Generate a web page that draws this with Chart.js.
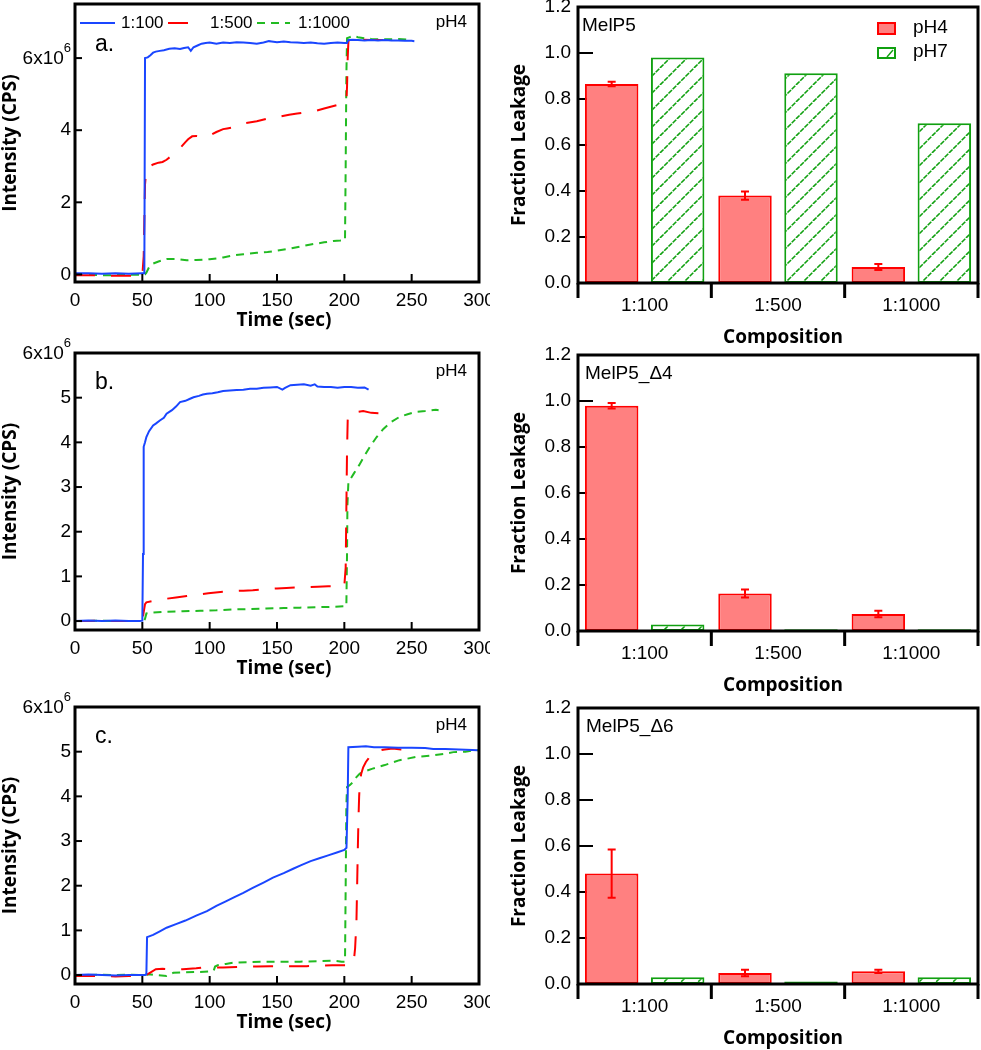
<!DOCTYPE html>
<html>
<head>
<meta charset="utf-8">
<script src="https://cdn.jsdelivr.net/npm/chart.js@4.4.1/dist/chart.umd.min.js"></script>
<style>
html,body{margin:0;padding:0;background:#fff;}
#wrap{position:relative;width:981px;height:1050px;overflow:hidden;background:#fff;}
canvas{position:absolute;}
</style>
</head>
<body>
<div id="wrap"></div>
<script>
// ---------------- DATA ----------------
// time-course panels (intensity in units of 10^6 CPS)
const xTicks = [0, 50, 100, 150, 200, 250, 300];
const yTicksA = [0, 2, 4, 6];
const yTicksBC = [0, 1, 2, 3, 4, 5, 6];
const seriesNames = ['1:100', '1:500', '1:1000'];

const aBlueT = [0,10,20,30,40,50,51.5,52,54,56,58,60,63,66,70,74,78,81,84,86,88,91,94,97,100,105,110,115,120,125,130,135,140,144,146,150,155,160,165,170,175,180,185,190,195,200,202,203,206,210,215,220,225,230,235,240,245,250,252];
const aBlueV = [0.03,0.03,0.02,0.03,0.02,0.03,0.03,6.0,6.02,6.08,6.15,6.18,6.2,6.22,6.26,6.27,6.25,6.28,6.3,6.2,6.3,6.35,6.4,6.42,6.43,6.4,6.43,6.42,6.44,6.43,6.42,6.4,6.43,6.47,6.46,6.44,6.46,6.44,6.43,6.42,6.43,6.41,6.4,6.42,6.43,6.42,6.42,6.5,6.51,6.5,6.49,6.5,6.49,6.5,6.49,6.49,6.48,6.48,6.47];
const aRedT = [0,10,20,30,40,48,50,51,51.5,52,53,55,58,62,65,68,72,78,82,84,87,90,93,97,100,105,110,113,120,127,135,146,152,159,165,172,178,185,192,197,200,201.5,202,202.5,203,204,205,210,220,230,240];
const aRedV = [-0.02,-0.02,-0.03,-0.04,-0.04,-0.04,-0.03,0.5,1.5,2.5,2.9,2.98,3.05,3.1,3.12,3.18,3.3,3.5,3.67,3.75,3.83,3.84,3.82,3.8,3.85,3.95,4.03,4.05,4.1,4.2,4.25,4.35,4.38,4.43,4.46,4.5,4.53,4.6,4.67,4.72,4.75,4.8,5.2,6.0,6.45,6.55,6.55,6.52,6.5,6.5,6.48];
const aGreenT = [0,10,20,30,40,50,52,53,55,58,62,68,75,83,90,95,100,110,118,125,135,143,150,160,168,175,185,192,197,200.5,201,201.5,202,204,207,210,215,220,230,240,250];
const aGreenV = [-0.01,-0.01,-0.02,-0.02,-0.01,-0.01,0.0,0.05,0.2,0.3,0.36,0.43,0.43,0.39,0.4,0.41,0.42,0.47,0.53,0.56,0.6,0.62,0.66,0.72,0.78,0.83,0.89,0.93,0.94,0.95,3.0,5.5,6.55,6.58,6.62,6.58,6.55,6.53,6.52,6.53,6.5];

const bBlueT = [0,10,20,30,40,48,50,50.5,51,52,53,55,58,60,63,66,68,72,75,78,82,85,88,92,95,98,102,106,110,115,120,125,130,135,140,145,150,154,156,160,165,170,175,178,180,185,190,195,200,205,210,215,218];
const bBlueV = [0.0,0.01,0.0,0.01,0.0,0.0,0.01,1.5,3.9,4.0,4.12,4.25,4.38,4.42,4.49,4.55,4.64,4.72,4.8,4.9,4.93,4.97,5.01,5.04,5.07,5.09,5.1,5.12,5.15,5.16,5.17,5.18,5.2,5.2,5.22,5.23,5.24,5.18,5.22,5.28,5.29,5.3,5.27,5.3,5.25,5.24,5.24,5.22,5.24,5.24,5.22,5.23,5.18];
const bRedT = [0,10,20,30,40,50,51,52,53,58,63,68,75,83,90,99,108,117,125,132,140,150,157,163,170,180,188,195,200,201,201.5,202,202.5,203,206,210,214,220,226,230];
const bRedV = [0.0,0.0,0.01,0.0,0.0,0.0,0.2,0.38,0.42,0.45,0.48,0.5,0.53,0.56,0.59,0.62,0.65,0.67,0.68,0.69,0.71,0.73,0.74,0.75,0.76,0.77,0.78,0.78,0.79,1.2,2.5,3.8,4.5,4.62,4.68,4.68,4.7,4.66,4.65,4.64];
const bGreenT = [0,10,20,30,40,50,51,52,53,58,68,80,93,105,118,130,142,155,167,180,192,200,201.5,202,202.3,203,204,207,211,215,219,224,229,235,241,247,253,260,268,270];
const bGreenV = [0.0,0.0,0.01,0.0,0.0,0.0,0.0,0.05,0.17,0.19,0.21,0.22,0.23,0.24,0.26,0.27,0.28,0.29,0.3,0.31,0.32,0.33,0.33,1.5,2.6,3.1,3.15,3.3,3.49,3.7,3.9,4.12,4.3,4.46,4.57,4.63,4.68,4.7,4.73,4.72];

const cBlueT = [0,10,20,30,40,50,52,53,53.5,58,63,68,75,82,90,98,105,112,118,125,132,140,147,155,162,168,175,182,188,195,200,201.6,202.5,203,210,216,222,230,240,250,260,266,275,285,295,299];
const cBlueV = [0.0,0.01,0.0,-0.01,0.0,0.0,0.0,0.02,0.85,0.9,0.98,1.06,1.14,1.22,1.33,1.43,1.55,1.65,1.74,1.84,1.95,2.07,2.18,2.28,2.38,2.46,2.55,2.62,2.68,2.75,2.8,2.85,4.0,5.1,5.11,5.12,5.1,5.1,5.09,5.09,5.08,5.06,5.06,5.05,5.04,5.03];
const cRedT = [0,10,20,30,40,45,50,53,55,60,65,70,75,80,90,95,100,110,120,127,135,145,157,165,172,180,191,200,205,207,208,209,209.5,210,210.5,211,211.5,212.5,214,216,218,221,225,230,236,242,250];
const cRedV = [-0.02,-0.02,-0.02,-0.03,-0.02,-0.03,-0.02,0.0,0.04,0.13,0.14,0.13,0.13,0.13,0.15,0.17,0.17,0.17,0.18,0.19,0.19,0.2,0.2,0.2,0.2,0.21,0.22,0.22,0.22,0.3,0.6,1.2,2.0,2.8,3.5,4.0,4.3,4.5,4.65,4.77,4.85,4.97,5.02,5.05,5.07,5.05,5.04];
const cGreenT = [0,10,20,30,40,50,55,60,68,73,80,93,100,103,104,106,112,118,130,142,155,167,180,192,198,200.5,201,201.5,202,204,206.5,209,211.5,216,221,230,241,253,266,274,281,290,296,300];
const cGreenV = [0.0,0.0,0.01,0.0,0.01,0.0,0.02,0.0,-0.02,0.05,0.06,0.07,0.08,0.1,0.19,0.22,0.25,0.28,0.29,0.3,0.3,0.3,0.31,0.32,0.3,0.3,2.0,3.8,4.21,4.25,4.32,4.43,4.51,4.57,4.62,4.7,4.81,4.88,4.92,4.95,4.99,5.0,5.03,5.03];

// bar panels
const compositions = ['1:100', '1:500', '1:1000'];
const barYTicks = [0, 0.2, 0.4, 0.6, 0.8, 1.0, 1.2];
const melP5_pH4 = [0.865, 0.38, 0.07];
const melP5_pH4_err = [0.01, 0.018, 0.013];
const melP5_pH7 = [0.98, 0.912, 0.695];
const d4_pH4 = [0.979, 0.163, 0.074];
const d4_pH4_err = [0.012, 0.017, 0.014];
const d4_pH7 = [0.028, 0.008, 0.008];
const d6_pH4 = [0.48, 0.048, 0.055];
const d6_pH4_err = [0.105, 0.014, 0.007];
const d6_pH7 = [0.029, 0.011, 0.029];

// ---------------- STYLE / HELPERS ----------------
const TICK_FAMILY = '"Liberation Sans", Arial, sans-serif';
const TICK_SIZE = 19;
const TICK_FONT = TICK_SIZE + 'px ' + TICK_FAMILY;
const TITLE_FONT = 'bold 19px "Open Sans", sans-serif';
const BLUE = '#1a46ff', RED = '#ff0000', GREEN = '#22bb22';
const BAR_RED_FILL = '#ff8080', BAR_GREEN = '#10a010';

const wrap = document.getElementById('wrap');
function makeCanvas(x, y, w, h) {
  const c = document.createElement('canvas');
  c.width = w; c.height = h;
  c.style.left = x + 'px'; c.style.top = y + 'px';
  c.style.width = w + 'px'; c.style.height = h + 'px';
  wrap.appendChild(c);
  return c;
}
function pts(t, v) { return t.map((x, i) => ({x: x, y: v[i]})); }

const hatch = (function () {
  const p = document.createElement('canvas');
  p.width = 17; p.height = 17;
  const g = p.getContext('2d');
  g.fillStyle = '#fff'; g.fillRect(0, 0, 17, 17);
  g.strokeStyle = BAR_GREEN; g.lineWidth = 1.6;
  g.setLineDash([5, 1]);
  for (const k of [-17, 0, 17]) { g.beginPath(); g.moveTo(k, 17); g.lineTo(k + 17, 0); g.stroke(); }
  return p;
})();

function rotText(ctx, txt, x, y, font) {
  ctx.save(); ctx.translate(x, y); ctx.rotate(-Math.PI / 2);
  ctx.font = font; ctx.fillStyle = '#000'; ctx.textAlign = 'center'; ctx.textBaseline = 'middle';
  ctx.fillText(txt, 0, 0); ctx.restore();
}
function text(ctx, txt, x, y, font, align) {
  ctx.save(); ctx.font = font; ctx.fillStyle = '#000'; ctx.textAlign = align || 'left'; ctx.textBaseline = 'middle';
  ctx.fillText(txt, x, y); ctx.restore();
}

// ---------------- LINE PANELS ----------------
function lineChart(cfg) {
  const W = 490, H = cfg.cH, top = cfg.cTop;
  const aTop = cfg.area[0] - top, aBot = cfg.area[1] - top;
  const canvas = makeCanvas(0, top, W, H);
  const deco = {
    id: 'deco',
    afterDraw(chart) {
      const ctx = chart.ctx, a = chart.chartArea, xs = chart.scales.x, ys = chart.scales.y;
      ctx.save();
      ctx.strokeStyle = '#000'; ctx.lineWidth = 2;
      xs.ticks.forEach(t => {
        const px = xs.getPixelForValue(t.value);
        if (px <= a.left + 1 || px >= a.right - 1) return;
        ctx.beginPath(); ctx.moveTo(px, a.bottom); ctx.lineTo(px, a.bottom - 8); ctx.stroke();
      });
      ys.ticks.forEach(t => {
        const py = ys.getPixelForValue(t.value);
        if (py <= a.top + 1 || py >= a.bottom - 1) return;
        ctx.beginPath(); ctx.moveTo(a.left, py); ctx.lineTo(a.left + 7, py); ctx.stroke();
      });
      ctx.lineWidth = 3;
      ctx.strokeRect(a.left, a.top, a.right - a.left, a.bottom - a.top);
      // 6x10^6 label
      const py6 = ys.getPixelForValue(6);
      ctx.fillStyle = '#000'; ctx.textBaseline = 'middle'; ctx.textAlign = 'right';
      ctx.font = '13px ' + TICK_FAMILY;
      ctx.fillText('6', 71, py6 - 10);
      const sw = ctx.measureText('6').width;
      ctx.font = TICK_FONT;
      ctx.fillText('6x10', 71 - sw, py6 + 1);
      ctx.restore();
      rotText(ctx, 'Intensity (CPS)', 11, (a.top + a.bottom) / 2, TITLE_FONT);
      text(ctx, 'Time (sec)', 284, a.bottom + 39, TITLE_FONT, 'center');
      text(ctx, cfg.label, 95, a.top + cfg.labelDy, '23px ' + TICK_FAMILY);
      text(ctx, 'pH4', a.right - 12, a.top + 18, '17px ' + TICK_FAMILY, 'right');
      if (cfg.legend) {
        const ly = a.top + 19;
        const items = [[80, 115, 121], [168, 200, 210], [257, 290, 298]];
        chart.data.datasets.forEach((ds, i) => {
          const it = items[i];
          ctx.save();
          ctx.strokeStyle = ds.borderColor; ctx.lineWidth = 2; ctx.setLineDash(ds.borderDash || []);
          ctx.beginPath(); ctx.moveTo(it[0], ly); ctx.lineTo(it[1], ly); ctx.stroke();
          ctx.restore();
          text(ctx, ds.label, it[2], ly, '17px ' + TICK_FAMILY);
        });
      }
    }
  };
  return new Chart(canvas, {
    type: 'line',
    data: {
      datasets: [
        {label: seriesNames[0], data: pts(cfg.s[0], cfg.s[1]), borderColor: BLUE, borderWidth: 2},
        {label: seriesNames[1], data: pts(cfg.s[2], cfg.s[3]), borderColor: RED, borderWidth: 2, borderDash: [20, 16]},
        {label: seriesNames[2], data: pts(cfg.s[4], cfg.s[5]), borderColor: GREEN, borderWidth: 2, borderDash: [8, 6]}
      ]
    },
    options: {
      responsive: false, animation: false, devicePixelRatio: 1,
      elements: {point: {radius: 0}, line: {tension: 0, fill: false, borderCapStyle: 'butt'}},
      layout: {padding: {left: 0, top: aTop, right: W - 479, bottom: 0}},
      plugins: {legend: {display: false}, tooltip: {enabled: false}},
      scales: {
        x: {
          type: 'linear', min: 0, max: 300,
          afterBuildTicks: s => { s.ticks = xTicks.map(v => ({value: v})); },
          afterFit: s => { s.height = H - aBot; s.paddingLeft = 0; s.paddingRight = 0; },
          grid: {display: false, drawTicks: false}, border: {display: false},
          ticks: {padding: 7, color: '#000', font: {family: TICK_FAMILY, size: TICK_SIZE}, maxRotation: 0, autoSkip: false}
        },
        y: {
          min: cfg.yMin, max: cfg.yMax,
          afterBuildTicks: s => { s.ticks = cfg.yTicks.map(v => ({value: v})); },
          afterFit: s => { s.width = 75; s.paddingTop = 0; s.paddingBottom = 0; },
          grid: {display: false, drawTicks: false}, border: {display: false},
          ticks: {padding: 4, color: '#000', font: {family: TICK_FAMILY, size: TICK_SIZE}, callback: v => (v === 6 ? '' : String(v))}
        }
      }
    },
    plugins: [deco]
  });
}

const lineCfgs = [
  {cTop: 0, cH: 350, area: [4, 282], yMin: -0.21, yMax: 7.5, yTicks: yTicksA, label: 'a.', labelDy: 41, legend: true,
   s: [aBlueT, aBlueV, aRedT, aRedV, aGreenT, aGreenV]},
  {cTop: 328, cH: 372, area: [353, 630], yMin: -0.2, yMax: 6, yTicks: yTicksBC, label: 'b.', labelDy: 30, legend: false,
   s: [bBlueT, bBlueV, bRedT, bRedV, bGreenT, bGreenV]},
  {cTop: 680, cH: 370, area: [707, 984], yMin: -0.2, yMax: 6, yTicks: yTicksBC, label: 'c.', labelDy: 30, legend: false,
   s: [cBlueT, cBlueV, cRedT, cRedV, cGreenT, cGreenV]}
];
lineCfgs.forEach(cfg => lineChart(cfg));

// ---------------- BAR PANELS ----------------
function barChart(cfg) {
  const W = 491, H = cfg.cH, top = cfg.cTop;
  const aTop = cfg.area[0] - top, aBot = cfg.area[1] - top;
  const canvas = makeCanvas(490, top, W, H);
  const under = {
    id: 'under',
    beforeDatasetsDraw(chart) {
      const ctx = chart.ctx, a = chart.chartArea, ys = chart.scales.y;
      ctx.save(); ctx.strokeStyle = '#000'; ctx.lineWidth = 2;
      ys.ticks.forEach(t => {
        const py = ys.getPixelForValue(t.value);
        if (py <= a.top + 1 || py >= a.bottom - 1) return;
        ctx.beginPath(); ctx.moveTo(a.left, py); ctx.lineTo(a.left + 15, py); ctx.stroke();
      });
      ctx.restore();
    }
  };
  const over = {
    id: 'over',
    afterDatasetsDraw(chart) {
      const ctx = chart.ctx, a = chart.chartArea, ys = chart.scales.y;
      const meta = chart.getDatasetMeta(0);
      ctx.save(); ctx.strokeStyle = RED; ctx.lineWidth = 2;
      meta.data.forEach((bar, i) => {
        const v = cfg.pH4[i], e = cfg.err[i];
        const yt = ys.getPixelForValue(v + e), yb = ys.getPixelForValue(v - e);
        ctx.beginPath();
        ctx.moveTo(bar.x, yt); ctx.lineTo(bar.x, yb);
        ctx.moveTo(bar.x - 4, yt); ctx.lineTo(bar.x + 4, yt);
        ctx.moveTo(bar.x - 4, yb); ctx.lineTo(bar.x + 4, yb);
        ctx.stroke();
      });
      ctx.restore();
      ctx.save(); ctx.strokeStyle = '#000'; ctx.lineWidth = 3;
      ctx.beginPath();
      ctx.moveTo(a.left, a.bottom); ctx.lineTo(a.left, a.top); ctx.lineTo(a.right, a.top); ctx.lineTo(a.right, a.bottom);
      ctx.moveTo(a.left - 1.5, a.bottom); ctx.lineTo(a.right + 1.5, a.bottom);
      ctx.stroke();
      const n = compositions.length;
      for (let i = 0; i <= n; i++) {
        const px = a.left + (a.right - a.left) * i / n;
        ctx.beginPath(); ctx.moveTo(px, a.bottom); ctx.lineTo(px, a.bottom + 15); ctx.stroke();
      }
      ctx.restore();
      rotText(ctx, 'Fraction Leakage', 30, (a.top + a.bottom) / 2, TITLE_FONT);
      text(ctx, 'Composition', 293, a.bottom + 55, TITLE_FONT, 'center');
      text(ctx, cfg.name, cfg.nameX, a.top + 19, '19px ' + TICK_FAMILY);
      if (cfg.legend) {
        const ds = chart.data.datasets;
        ctx.save();
        ctx.lineWidth = 2;
        ctx.fillStyle = BAR_RED_FILL; ctx.strokeStyle = RED;
        ctx.fillRect(388, a.top + 16, 17, 11); ctx.strokeRect(388, a.top + 16, 17, 11);
        ctx.fillStyle = '#fff'; ctx.strokeStyle = BAR_GREEN;
        ctx.fillRect(388, a.top + 41, 17, 10); ctx.strokeRect(388, a.top + 41, 17, 10);
        ctx.lineWidth = 1.4;
        ctx.beginPath(); ctx.moveTo(397, a.top + 50); ctx.lineTo(403, a.top + 43); ctx.stroke();
        ctx.restore();
        text(ctx, ds[0].label, 423, a.top + 21, '19px ' + TICK_FAMILY);
        text(ctx, ds[1].label, 423, a.top + 45, '19px ' + TICK_FAMILY);
      }
    }
  };
  return new Chart(canvas, {
    type: 'bar',
    data: {
      labels: compositions,
      datasets: [
        {label: 'pH4', data: cfg.pH4, backgroundColor: BAR_RED_FILL, borderColor: RED, borderWidth: 2,
         categoryPercentage: 0.99, barPercentage: 0.81, borderSkipped: false},
        {label: 'pH7', data: cfg.pH7, backgroundColor: '#fff', borderColor: BAR_GREEN, borderWidth: 2,
         categoryPercentage: 0.99, barPercentage: 0.81, borderSkipped: false}
      ]
    },
    options: {
      responsive: false, animation: false, devicePixelRatio: 1,
      layout: {padding: {left: 0, top: aTop, right: W - 488, bottom: 0}},
      plugins: {legend: {display: false}, tooltip: {enabled: false}},
      scales: {
        x: {
          type: 'category', offset: true,
          afterFit: s => { s.height = H - aBot; s.paddingLeft = 0; s.paddingRight = 0; },
          grid: {display: false, drawTicks: false}, border: {display: false},
          ticks: {padding: 11, color: '#000', font: {family: TICK_FAMILY, size: TICK_SIZE}, maxRotation: 0}
        },
        y: {
          min: 0, max: 1.2,
          afterBuildTicks: s => { s.ticks = barYTicks.map(v => ({value: v})); },
          afterFit: s => { s.width = 88; s.paddingTop = 0; s.paddingBottom = 0; },
          grid: {display: false, drawTicks: false}, border: {display: false},
          ticks: {padding: 7, color: '#000', font: {family: TICK_FAMILY, size: TICK_SIZE}, callback: v => Number(v).toFixed(1)}
        }
      }
    },
    plugins: [under, over]
  });
}

const barCfgs = [
  {cTop: 0, cH: 350, area: [7, 283], pH4: melP5_pH4, err: melP5_pH4_err, pH7: melP5_pH7, name: 'MelP5', nameX: 92, legend: true},
  {cTop: 328, cH: 372, area: [355, 631], pH4: d4_pH4, err: d4_pH4_err, pH7: d4_pH7, name: 'MelP5_\u03944', nameX: 95, legend: false},
  {cTop: 680, cH: 370, area: [708, 984], pH4: d6_pH4, err: d6_pH4_err, pH7: d6_pH7, name: 'MelP5_\u03946', nameX: 96, legend: false}
];
barCfgs.forEach(cfg => {
  const ch = barChart(cfg);
  ch.data.datasets[1].backgroundColor = ch.ctx.createPattern(hatch, 'repeat');
  ch.update();
});
</script>
</body>
</html>
